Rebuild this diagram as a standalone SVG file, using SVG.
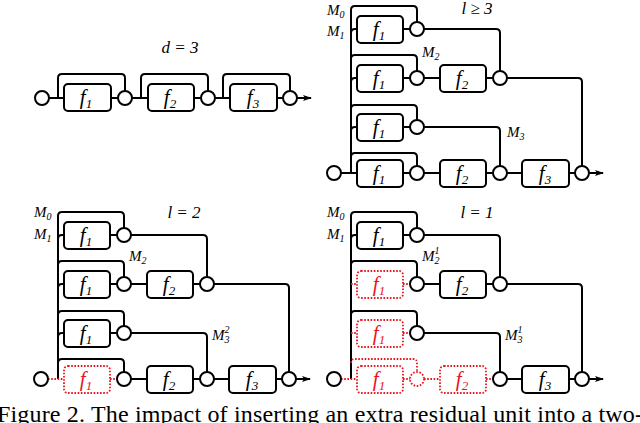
<svg xmlns="http://www.w3.org/2000/svg" width="640" height="423" viewBox="0 0 640 423">
<style>
.l{fill:none;stroke:#000;stroke-width:2}
.r{fill:none;stroke:#e8141e;stroke-width:1.8;stroke-dasharray:1.6 1.6}
.b{fill:#fff;stroke:#000;stroke-width:2}
.br{fill:#fff;stroke:#e8141e;stroke-width:1.8;stroke-dasharray:1.6 1.6}
.t{font-family:"Liberation Serif",serif;font-style:italic;font-size:21px;fill:#000}
.tr{font-family:"Liberation Serif",serif;font-style:italic;font-size:21px;fill:#e8141e}
.m{font-family:"Liberation Serif",serif;font-style:italic;font-size:15px;fill:#000}
.h{font-family:"Liberation Serif",serif;font-style:italic;font-size:17px;fill:#000}
.s{font-size:13px}
.m .s{font-size:10px}
</style>
<defs>
<marker id="a" markerWidth="10" markerHeight="8" refX="8" refY="4" orient="auto" markerUnits="userSpaceOnUse"><path d="M0,1 L9,4 L0,7 L2,4 Z" fill="#000"/></marker>
</defs>

<!-- d=3 panel -->
<g id="d3">
<text class="h" x="180" y="53" text-anchor="middle">d = 3</text>
<g id="d3-conn">
<path class="l" d="M49,98 H64 M58,98 V78 Q58,74 62,74 H121 Q125,74 125,78 V91 M111,98 H118"/>
<path class="l" d="M132,98 H148 M141,98 V78 Q141,74 145,74 H204 Q208,74 208,78 V91 M194,98 H201"/>
<path class="l" d="M215,98 H230 M223,98 V78 Q223,74 227,74 H286 Q290,74 290,78 V91 M277,98 H283"/>
<path class="l" d="M297,98 H311" marker-end="url(#a)"/>
</g>
<g id="d3-in"><circle class="b" cx="42" cy="98" r="7"/></g>
<g id="d3-f1"><rect class="b" x="64" y="84" width="47" height="27" rx="4"/><text class="t" x="86" y="104" text-anchor="middle">f<tspan class="s" dy="4">1</tspan></text></g>
<g id="d3-c1"><circle class="b" cx="125" cy="98" r="7"/></g>
<g id="d3-f2"><rect class="b" x="148" y="84" width="46" height="27" rx="4"/><text class="t" x="170" y="104" text-anchor="middle">f<tspan class="s" dy="4">2</tspan></text></g>
<g id="d3-c2"><circle class="b" cx="208" cy="98" r="7"/></g>
<g id="d3-f3"><rect class="b" x="230" y="84" width="47" height="27" rx="4"/><text class="t" x="253" y="104" text-anchor="middle">f<tspan class="s" dy="4">3</tspan></text></g>
<g id="d3-c3"><circle class="b" cx="290" cy="98" r="7"/></g>
</g>

<!-- l>=3 panel -->
<g id="l3">
<text class="h" x="477" y="14" text-anchor="middle">l ≥ 3</text>
<text class="m" x="327" y="15">M<tspan class="s" dy="3">0</tspan></text>
<text class="m" x="327" y="36">M<tspan class="s" dy="3">1</tspan></text>
<text class="m" x="422" y="57">M<tspan class="s" dy="3">2</tspan></text>
<text class="m" x="507" y="137">M<tspan class="s" dy="3">3</tspan></text>
<g id="l3-conn">
<path class="l" d="M351,173 V10 Q351,6 355,6 H413 Q417,6 417,10 V22"/>
<path class="l" d="M351,59 Q351,55 355,55 H413 Q417,55 417,59 V71"/>
<path class="l" d="M351,109 Q351,105 355,105 H413 Q417,105 417,109 V120"/>
<path class="l" d="M351,157 Q351,153 355,153 H413 Q417,153 417,157 V166"/>
<path class="l" d="M351,33 Q351,29 355,29 H357 M351,82 Q351,78 355,78 H357 M351,131 Q351,127 355,127 H357 M341,173 H357"/>
<path class="l" d="M403,29 H410 M424,29 H496 Q500,29 500,33 V71"/>
<path class="l" d="M403,78 H410 M424,78 H440 M486,78 H493 M507,78 H578 Q582,78 582,82 V166"/>
<path class="l" d="M403,127 H410 M424,127 H496 Q500,127 500,131 V166"/>
<path class="l" d="M403,173 H410 M424,173 H440 M486,173 H493 M507,173 H522 M569,173 H575"/>
<path class="l" d="M589,173 H603" marker-end="url(#a)"/>
</g>
<g id="l3-in"><circle class="b" cx="334" cy="173" r="7"/></g>
<g id="l3-r1f1"><rect class="b" x="357" y="16" width="46" height="27" rx="4"/><text class="t" x="379" y="36" text-anchor="middle">f<tspan class="s" dy="4">1</tspan></text></g>
<g id="l3-r1c"><circle class="b" cx="417" cy="29" r="7"/></g>
<g id="l3-r2f1"><rect class="b" x="357" y="65" width="46" height="27" rx="4"/><text class="t" x="379" y="85" text-anchor="middle">f<tspan class="s" dy="4">1</tspan></text></g>
<g id="l3-r2c"><circle class="b" cx="417" cy="78" r="7"/></g>
<g id="l3-r2f2"><rect class="b" x="440" y="65" width="46" height="27" rx="4"/><text class="t" x="462" y="85" text-anchor="middle">f<tspan class="s" dy="4">2</tspan></text></g>
<g id="l3-r2c2"><circle class="b" cx="500" cy="78" r="7"/></g>
<g id="l3-r3f1"><rect class="b" x="357" y="114" width="46" height="27" rx="4"/><text class="t" x="379" y="134" text-anchor="middle">f<tspan class="s" dy="4">1</tspan></text></g>
<g id="l3-r3c"><circle class="b" cx="417" cy="127" r="7"/></g>
<g id="l3-r4f1"><rect class="b" x="357" y="160" width="46" height="27" rx="4"/><text class="t" x="379" y="180" text-anchor="middle">f<tspan class="s" dy="4">1</tspan></text></g>
<g id="l3-r4c"><circle class="b" cx="417" cy="173" r="7"/></g>
<g id="l3-r4f2"><rect class="b" x="440" y="160" width="46" height="27" rx="4"/><text class="t" x="462" y="180" text-anchor="middle">f<tspan class="s" dy="4">2</tspan></text></g>
<g id="l3-r4c2"><circle class="b" cx="500" cy="173" r="7"/></g>
<g id="l3-r4f3"><rect class="b" x="522" y="160" width="47" height="27" rx="4"/><text class="t" x="545" y="180" text-anchor="middle">f<tspan class="s" dy="4">3</tspan></text></g>
<g id="l3-out"><circle class="b" cx="582" cy="173" r="7"/></g>
</g>

<!-- l=2 panel -->
<g id="l2" transform="translate(-293,206)">
<text class="h" x="477" y="12" text-anchor="middle">l = 2</text>
<text class="m" x="327" y="11">M<tspan class="s" dy="3">0</tspan></text>
<text class="m" x="327" y="33">M<tspan class="s" dy="3">1</tspan></text>
<text class="m" x="422" y="55">M<tspan class="s" dy="3">2</tspan></text>
<text class="m" x="505" y="134">M<tspan class="s" dy="-7">2</tspan><tspan class="s" dx="-5" dy="10">3</tspan></text>
<g id="l2-conn">
<path class="l" d="M351,173 V10 Q351,6 355,6 H413 Q417,6 417,10 V22"/>
<path class="l" d="M351,59 Q351,55 355,55 H413 Q417,55 417,59 V71"/>
<path class="l" d="M351,109 Q351,105 355,105 H413 Q417,105 417,109 V120"/>
<path class="l" d="M351,157 Q351,153 355,153 H413 Q417,153 417,157 V166"/>
<path class="l" d="M351,33 Q351,29 355,29 H357 M351,82 Q351,78 355,78 H357 M351,131 Q351,127 355,127 H357"/>
<path class="r" d="M341,173 H357 M403,173 H410"/>
<path class="l" d="M403,29 H410 M424,29 H496 Q500,29 500,33 V71"/>
<path class="l" d="M403,78 H410 M424,78 H440 M486,78 H493 M507,78 H578 Q582,78 582,82 V166"/>
<path class="l" d="M403,127 H410 M424,127 H496 Q500,127 500,131 V166"/>
<path class="l" d="M424,173 H440 M486,173 H493 M507,173 H522 M569,173 H575"/>
<path class="l" d="M589,173 H603" marker-end="url(#a)"/>
</g>
<g id="l2-in"><circle class="b" cx="334" cy="173" r="7"/></g>
<g id="l2-r1f1"><rect class="b" x="357" y="16" width="46" height="27" rx="4"/><text class="t" x="379" y="36" text-anchor="middle">f<tspan class="s" dy="4">1</tspan></text></g>
<g id="l2-r1c"><circle class="b" cx="417" cy="29" r="7"/></g>
<g id="l2-r2f1"><rect class="b" x="357" y="65" width="46" height="27" rx="4"/><text class="t" x="379" y="85" text-anchor="middle">f<tspan class="s" dy="4">1</tspan></text></g>
<g id="l2-r2c"><circle class="b" cx="417" cy="78" r="7"/></g>
<g id="l2-r2f2"><rect class="b" x="440" y="65" width="46" height="27" rx="4"/><text class="t" x="462" y="85" text-anchor="middle">f<tspan class="s" dy="4">2</tspan></text></g>
<g id="l2-r2c2"><circle class="b" cx="500" cy="78" r="7"/></g>
<g id="l2-r3f1"><rect class="b" x="357" y="114" width="46" height="27" rx="4"/><text class="t" x="379" y="134" text-anchor="middle">f<tspan class="s" dy="4">1</tspan></text></g>
<g id="l2-r3c"><circle class="b" cx="417" cy="127" r="7"/></g>
<g id="l2-r4f1"><rect class="br" x="357" y="160" width="46" height="27" rx="4"/><text class="tr" x="379" y="180" text-anchor="middle">f<tspan class="s" dy="4">1</tspan></text></g>
<g id="l2-r4c"><circle class="b" cx="417" cy="173" r="7"/></g>
<g id="l2-r4f2"><rect class="b" x="440" y="160" width="46" height="27" rx="4"/><text class="t" x="462" y="180" text-anchor="middle">f<tspan class="s" dy="4">2</tspan></text></g>
<g id="l2-r4c2"><circle class="b" cx="500" cy="173" r="7"/></g>
<g id="l2-r4f3"><rect class="b" x="522" y="160" width="47" height="27" rx="4"/><text class="t" x="545" y="180" text-anchor="middle">f<tspan class="s" dy="4">3</tspan></text></g>
<g id="l2-out"><circle class="b" cx="582" cy="173" r="7"/></g>
</g>

<!-- l=1 panel -->
<g id="l1" transform="translate(0,206)">
<text class="h" x="477" y="12" text-anchor="middle">l = 1</text>
<text class="m" x="327" y="11">M<tspan class="s" dy="3">0</tspan></text>
<text class="m" x="327" y="33">M<tspan class="s" dy="3">1</tspan></text>
<text class="m" x="422" y="55">M<tspan class="s" dy="-7">1</tspan><tspan class="s" dx="-5" dy="10">2</tspan></text>
<text class="m" x="505" y="134">M<tspan class="s" dy="-7">1</tspan><tspan class="s" dx="-5" dy="10">3</tspan></text>
<g id="l1-conn">
<path class="l" d="M351,173 V10 Q351,6 355,6 H413 Q417,6 417,10 V22"/>
<path class="l" d="M351,59 Q351,55 355,55 H413 Q417,55 417,59 V71"/>
<path class="l" d="M351,109 Q351,105 355,105 H413 Q417,105 417,109 V120"/>
<path class="r" d="M351,157 Q351,153 355,153 H413 Q417,153 417,157 V166"/>
<path class="l" d="M351,33 Q351,29 355,29 H357"/>
<path class="r" d="M351,78 H357 M351,127 H357 M341,173 H357 M403,78 H410 M403,127 H410 M403,173 H410 M424,173 H440 M486,173 H493"/>
<path class="l" d="M403,29 H410 M424,29 H496 Q500,29 500,33 V71"/>
<path class="l" d="M424,78 H440 M486,78 H493 M507,78 H578 Q582,78 582,82 V166"/>
<path class="l" d="M424,127 H496 Q500,127 500,131 V166"/>
<path class="l" d="M507,173 H522 M569,173 H575"/>
<path class="l" d="M589,173 H603" marker-end="url(#a)"/>
</g>
<g id="l1-in"><circle class="b" cx="334" cy="173" r="7"/></g>
<g id="l1-r1f1"><rect class="b" x="357" y="16" width="46" height="27" rx="4"/><text class="t" x="379" y="36" text-anchor="middle">f<tspan class="s" dy="4">1</tspan></text></g>
<g id="l1-r1c"><circle class="b" cx="417" cy="29" r="7"/></g>
<g id="l1-r2f1"><rect class="br" x="357" y="65" width="46" height="27" rx="4"/><text class="tr" x="379" y="85" text-anchor="middle">f<tspan class="s" dy="4">1</tspan></text></g>
<g id="l1-r2c"><circle class="b" cx="417" cy="78" r="7"/></g>
<g id="l1-r2f2"><rect class="b" x="440" y="65" width="46" height="27" rx="4"/><text class="t" x="462" y="85" text-anchor="middle">f<tspan class="s" dy="4">2</tspan></text></g>
<g id="l1-r2c2"><circle class="b" cx="500" cy="78" r="7"/></g>
<g id="l1-r3f1"><rect class="br" x="357" y="114" width="46" height="27" rx="4"/><text class="tr" x="379" y="134" text-anchor="middle">f<tspan class="s" dy="4">1</tspan></text></g>
<g id="l1-r3c"><circle class="b" cx="417" cy="127" r="7"/></g>
<g id="l1-r4f1"><rect class="br" x="357" y="160" width="46" height="27" rx="4"/><text class="tr" x="379" y="180" text-anchor="middle">f<tspan class="s" dy="4">1</tspan></text></g>
<g id="l1-r4c"><circle class="br" cx="417" cy="173" r="7"/></g>
<g id="l1-r4f2"><rect class="br" x="440" y="160" width="46" height="27" rx="4"/><text class="tr" x="462" y="180" text-anchor="middle">f<tspan class="s" dy="4">2</tspan></text></g>
<g id="l1-r4c2"><circle class="b" cx="500" cy="173" r="7"/></g>
<g id="l1-r4f3"><rect class="b" x="522" y="160" width="47" height="27" rx="4"/><text class="t" x="545" y="180" text-anchor="middle">f<tspan class="s" dy="4">3</tspan></text></g>
<g id="l1-out"><circle class="b" cx="582" cy="173" r="7"/></g>
</g>

<text x="-3" y="422" font-family="Liberation Serif, serif" font-size="24" textLength="646" lengthAdjust="spacing" fill="#000">Figure 2. The impact of inserting an extra residual unit into a two-</text>
</svg>
